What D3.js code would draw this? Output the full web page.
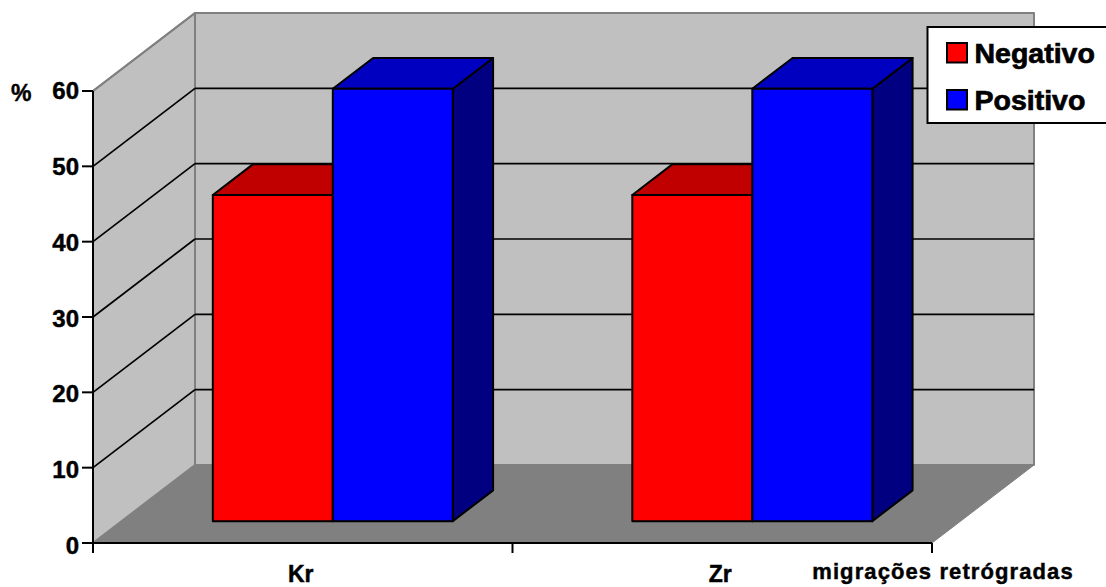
<!DOCTYPE html>
<html>
<head>
<meta charset="utf-8">
<script src="https://d3js.org/d3.v7.min.js"></script>
<style>
  html, body { margin: 0; background: #fff; overflow: hidden; }
  text { font-family: "Liberation Sans", Arial, sans-serif; font-weight: bold; fill: #000; stroke: #000; stroke-width: 0.45px; }
</style>
</head>
<body>
<div id="chart"></div>
<script>
// 3D-look column chart, drawn by hand with a small oblique projection
const categories = ["Kr", "Zr"];
const seriesNames = ["Negativo", "Positivo"];
const negativo = [43.3, 43.3];
const positivo = [57.4, 57.4];
const yTicks = [0, 10, 20, 30, 40, 50, 60];

const width = 1106;
const height = 587;

// oblique offset of the back wall, and where the bars sit in the depth
const depthX = 102;
const depthY = -78;
const barFront = 0.28;
const barBack = 0.675;
const barShift = 1.5;

const colors = {
  Negativo: { front: "#ff0000", top: "#c00000", side: "#800000" },
  Positivo: { front: "#0000ff", top: "#0000c0", side: "#000080" }
};

const x = d3.scaleBand().domain(categories).range([93, 932]);
const xInner = d3.scaleBand().domain(seriesNames).range([0, x.bandwidth()]).paddingInner(0).paddingOuter(0.748);
const y = d3.scaleLinear().domain([0, 60]).range([543, 91]);
// tick labels drift a little against the ticks in the original
const yLabel = d3.scaleLinear().domain([0, 60]).range([554, 99]);

const svg = d3.select("#chart").append("svg")
  .attr("width", width)
  .attr("height", height)
  .style("display", "block");

// px, py: front plane position, d: depth 0..1
const pt = (px, py, d) => [px + depthX * d, py + depthY * d];
const poly = (points, fill, stroke, sw) => svg.append("polygon")
  .attr("points", points.map(p => p.join(",")).join(" "))
  .attr("fill", fill)
  .attr("stroke", stroke)
  .attr("stroke-width", sw)
  .attr("stroke-linejoin", "round");
const line = (a, b, stroke, sw) => svg.append("line")
  .attr("x1", a[0]).attr("y1", a[1])
  .attr("x2", b[0]).attr("y2", b[1])
  .attr("stroke", stroke)
  .attr("stroke-width", sw);

const [x0, x1] = x.range();
const y0 = y(0);
const yMax = y(60);

// walls and floor
poly([pt(x0, y0, 0), pt(x0, yMax, 0), pt(x0, yMax, 1), pt(x0, y0, 1)], "#c0c0c0", "#808080", 2);
poly([pt(x0, y0, 1), pt(x0, yMax, 1), pt(x1, yMax, 1), pt(x1, y0, 1)], "#c0c0c0", "#808080", 2);
poly([pt(x0, y0, 0), pt(x0, y0, 1), pt(x1, y0, 1), pt(x1, y0, 0)], "#808080", "#808080", 1);

// gridlines on the side and back wall
yTicks.filter(t => t > 0 && t < 60).forEach(t => {
  line(pt(x0, y(t), 0), pt(x0, y(t), 1), "#000", 1.7);
  line(pt(x0, y(t), 1), pt(x1, y(t), 1), "#000", 1.7);
});
line(pt(x0, yMax, 0), pt(x0, yMax, 1), "#808080", 2);

// bars
categories.forEach((c, i) => {
  seriesNames.forEach((s, j) => {
    const v = (j === 0 ? negativo : positivo)[i];
    const l = x(c) + xInner(s) + barShift;
    const r = l + xInner.bandwidth();
    const b = y0;
    const t = y(v);
    const col = colors[s];
    poly([pt(r, b, barFront), pt(r, t, barFront), pt(r, t, barBack), pt(r, b, barBack)], col.side, "#000", 2);
    poly([pt(l, t, barFront), pt(r, t, barFront), pt(r, t, barBack), pt(l, t, barBack)], col.top, "#000", 2);
    poly([pt(l, b, barFront), pt(r, b, barFront), pt(r, t, barFront), pt(l, t, barFront)], col.front, "#000", 2);
  });
});

// axes
line([x0, yMax], [x0, 553], "#000", 2);
line([82, y0], [x1, y0], "#000", 2);
yTicks.forEach(t => {
  line([82, y(t)], [x0, y(t)], "#000", 2);
  svg.append("text")
    .attr("x", 79)
    .attr("y", yLabel(t))
    .attr("text-anchor", "end")
    .attr("font-size", 24)
    .text(t);
});
[x0, x0 + x.step(), x1].forEach(t => line([t, y0], [t, 553], "#000", 2));
categories.forEach(c => {
  svg.append("text")
    .attr("x", x(c) + x.bandwidth() / 2 - 2)
    .attr("y", 582)
    .attr("text-anchor", "middle")
    .attr("font-size", 23)
    .text(c);
});

svg.append("text").attr("x", 11).attr("y", 100.5).attr("font-size", 23).text("%");
svg.append("text")
  .attr("x", 943)
  .attr("y", 579)
  .attr("text-anchor", "middle")
  .attr("font-size", 22)
  .attr("letter-spacing", 1.1)
  .text("migrações retrógradas");

// legend, its right side runs off the page like in the original
svg.append("rect")
  .attr("x", 927.5).attr("y", 27)
  .attr("width", 190).attr("height", 96)
  .attr("fill", "#fff").attr("stroke", "#000").attr("stroke-width", 2);
seriesNames.forEach((s, i) => {
  const ly = 43 + i * 47;
  svg.append("rect")
    .attr("x", 947).attr("y", ly)
    .attr("width", 20).attr("height", 19.5)
    .attr("fill", colors[s].front).attr("stroke", "#000").attr("stroke-width", 2);
  svg.append("text")
    .attr("x", 974.5).attr("y", ly + 20)
    .attr("font-size", 28.5)
    .style("stroke-width", "0.7px")
    .text(s);
});
</script>
</body>
</html>
